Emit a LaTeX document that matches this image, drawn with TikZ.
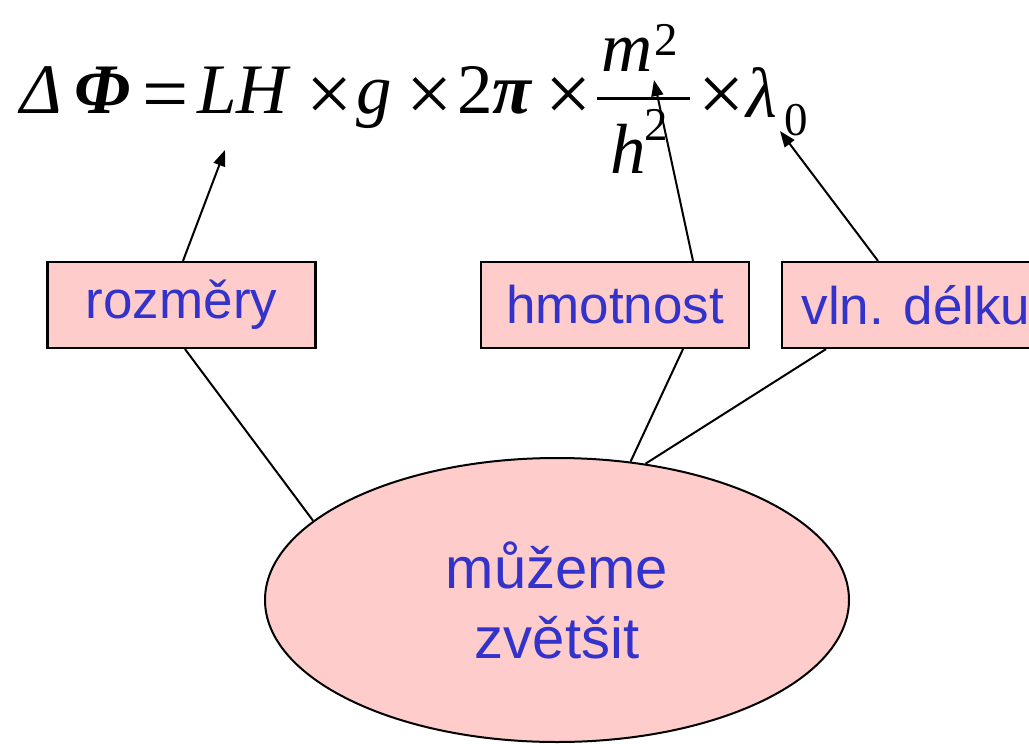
\documentclass[tikz,border=0pt]{standalone}
\usepackage{fontspec}
\setmainfont{Liberation Sans}
\newfontfamily\frmfont{Liberation Serif}
\usetikzlibrary{shapes.geometric,arrows.meta}
\definecolor{boxpink}{RGB}{255,204,204}
\definecolor{txtblue}{RGB}{51,51,204}
\begin{document}
\begin{tikzpicture}[x=1pt, y=-1pt,
    frm/.style={inner sep=0pt, anchor=base west, font=\frmfont\fontsize{71}{80}\selectfont},
    op/.style={inner sep=0pt, anchor=base west, font=\frmfont\fontsize{82}{90}\selectfont},
    idx/.style={inner sep=0pt, anchor=base west, font=\frmfont\fontsize{47}{55}\selectfont},
    what/.style={draw, line width=2.2pt, fill=boxpink, text=txtblue, minimum width=268pt,
      minimum height=86pt, inner sep=0pt, font=\fontsize{53}{60}\selectfont},
    link/.style={line width=2pt},
    pointer/.style={line width=2pt, -{Triangle[length=16pt,width=12pt]}}]
  \useasboundingbox (0,0) rectangle (1029,744);
  \clip (0,0) rectangle (1029,744);
  % the formula
  \node[frm] (delta) at (20,113) {\itshape Δ};
  \node[frm] (phi) at (74,113) {\itshape\bfseries Φ};
  \node[op] (eq) at (142,121) {=};
  \node[frm] (lh) at (197,113) {\itshape LH};
  \node[op] (x1) at (306,121) {×};
  \node[frm] (g) at (356,113) {\itshape g};
  \node[op] (x2) at (406,121) {×};
  \node[frm] (two) at (457,113) {2};
  \node[frm] (pi) at (492,113) {\itshape\bfseries π};
  \node[op] (x3) at (545,121) {×};
  \node[frm] (m) at (601,71) {\itshape m};
  \node[idx] (m2) at (654,56) {2};
  \draw[line width=3pt] (597,98) -- (690,98);
  \node[frm] (h) at (610,173) {\itshape h};
  \node[idx] (h2) at (644,140) {2};
  \node[op] (x4) at (698,121) {×};
  \node[frm] (lam) at (746,117) {\itshape λ};
  \node[idx] (lam0) at (784,135) {0};
  \coordinate (tipLH) at (225,150);
  \coordinate (tipM) at (654,80);
  \coordinate (tipLam) at (780,131);
  % boxes and ellipse
  \node[what] (rozm) at (181.5,305) {rozměry};
  \node[what] (hmot) at (615,305) {hmotnost};
  \node[what] (vln) at (916,305) {vln. délku};
  \node[ellipse, draw, line width=2pt, fill=boxpink, text=txtblue, minimum width=584pt,
    minimum height=284pt, inner sep=0pt, align=center,
    font=\fontsize{58}{70}\selectfont] (muz) at (557,600) {můžeme\\zvětšit};
  \draw[pointer] ([xshift=1.5pt]rozm.north) -- (tipLH);
  \draw[pointer] ([xshift=78pt]hmot.north) -- (tipM);
  \draw[pointer] ([xshift=-38pt]vln.north) -- (tipLam);
  \draw[link] ([xshift=3.5pt]rozm.south) -- (muz.162);
  \draw[link] ([xshift=68pt]hmot.south) -- (muz.62);
  \draw[link] ([xshift=-90pt]vln.south) -- (muz.57);
\end{tikzpicture}
\end{document}
